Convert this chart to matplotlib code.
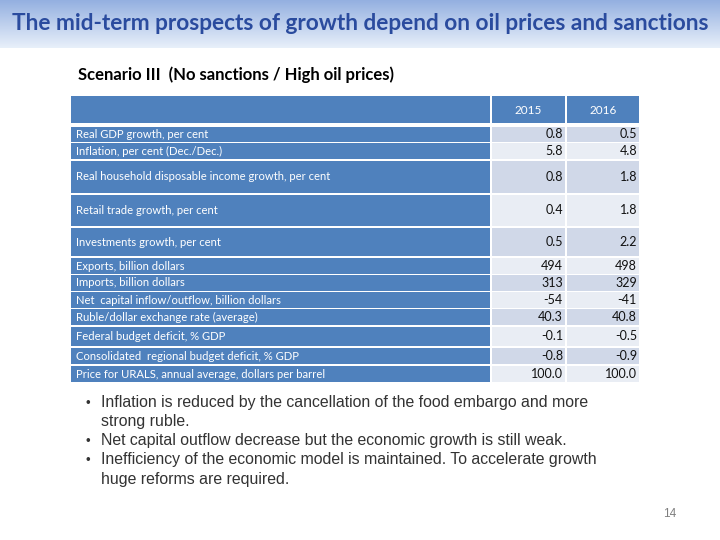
import numpy as np
import matplotlib.pyplot as plt
from matplotlib.patches import Rectangle

title = "The mid-term prospects of growth depend on oil prices and sanctions"
subtitle = "Scenario III  (No sanctions / High oil prices)"
years = ["2015", "2016"]
labels = [
    "Real GDP growth, per cent",
    "Inflation, per cent (Dec./Dec.)",
    "Real household disposable income growth, per cent",
    "Retail trade growth, per cent",
    "Investments growth, per cent",
    "Exports, billion dollars",
    "Imports, billion dollars",
    "Net  capital inflow/outflow, billion dollars",
    "Ruble/dollar exchange rate (average)",
    "Federal budget deficit, % GDP",
    "Consolidated  regional budget deficit, % GDP",
    "Price for URALS, annual average, dollars per barrel",
]
values_2015 = ["0.8", "5.8", "0.8", "0.4", "0.5", "494", "313", "-54", "40.3", "-0.1", "-0.8", "100.0"]
values_2016 = ["0.5", "4.8", "1.8", "1.8", "2.2", "498", "329", "-41", "40.8", "-0.5", "-0.9", "100.0"]
bullets = [
    ["Inflation is reduced by the cancellation of the food embargo and more", "strong ruble."],
    ["Net capital outflow decrease but the economic growth is still weak."],
    ["Inefficiency of the economic model is maintained. To accelerate growth", "huge reforms are required."],
]
page = "14"

# layout (pixels)
row_top = [127, 143, 161, 195, 228, 258, 275, 292, 309, 327, 348, 366]
row_bot = [142, 159, 193, 226, 256, 274, 291, 308, 325, 346, 364, 382]
col_x = [(71, 490), (492, 565), (567, 639)]
blue = "#4F81BD"
shade = ["#D0D8E8", "#E9EDF4"]

fig = plt.figure(figsize=(7.2, 5.4), dpi=100)
ax = fig.add_axes([0, 0, 1, 1])
ax.set_xlim(0, 720)
ax.set_ylim(540, 0)
ax.axis("off")

# title banner gradient
grad = np.linspace(0, 1, 100).reshape(-1, 1)
top = np.array([0.58, 0.69, 0.88])
bot = np.array([0.91, 0.94, 0.98])
img = top + (bot - top) * grad[:, :, None]
ax.imshow(img, extent=[0, 720, 48, 0], aspect="auto", zorder=0)
ax.text(360, 24, title, ha="center", va="center", fontsize=16.3,
        fontweight="bold", color="#2A4B9E", family="Lato")

ax.text(78, 75, subtitle, ha="left", va="center", fontsize=12,
        fontweight="bold", color="black", family="Lato")

# header
for x0, x1 in col_x:
    ax.add_patch(Rectangle((x0, 96), x1 - x0, 27, color=blue, lw=0))
for (x0, x1), yr in zip(col_x[1:], years):
    ax.text((x0 + x1) / 2, 110, yr, ha="center", va="center", fontsize=8.5,
            color="white", family="Lato")

# body rows
for i, (lab, v1, v2) in enumerate(zip(labels, values_2015, values_2016)):
    t, b = row_top[i], row_bot[i]
    yc = (t + b) / 2
    ax.add_patch(Rectangle((col_x[0][0], t), col_x[0][1] - col_x[0][0], b - t, color=blue, lw=0))
    for (x0, x1) in col_x[1:]:
        ax.add_patch(Rectangle((x0, t), x1 - x0, b - t, color=shade[i % 2], lw=0))
    ax.text(76, yc, lab, ha="left", va="center", fontsize=8.1, color="white", family="Lato")
    ax.text(col_x[1][1] - 2, yc, v1, ha="right", va="center", fontsize=9,
            color="#111111", family="Lato")
    ax.text(col_x[2][1] - 2, yc, v2, ha="right", va="center", fontsize=9,
            color="#111111", family="Lato")

# bullets
y = 402
for lines in bullets:
    ax.text(85, y + 1.5, "\u2022", ha="left", va="center", fontsize=9.5, color="#333333",
            family="Liberation Sans")
    for ln in lines:
        ax.text(101, y, ln, ha="left", va="center", fontsize=11.4, color="#333333",
                family="Liberation Sans")
        y += 19.3

ax.text(670, 514, page, ha="center", va="center", fontsize=8.5, color="#7F7F7F",
        family="Liberation Sans")

fig.savefig("out.png", dpi=100)
